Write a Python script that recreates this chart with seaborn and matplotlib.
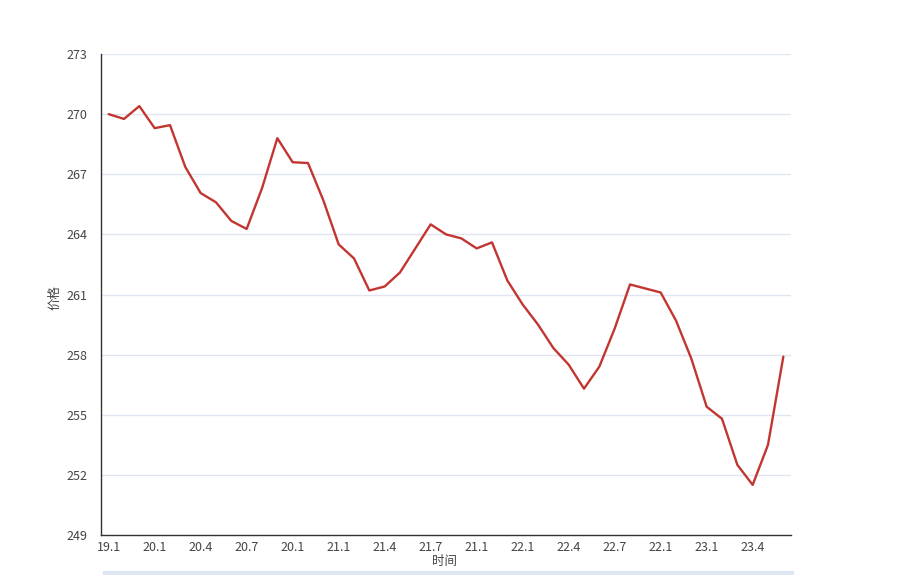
import numpy as np
import pandas as pd
import matplotlib
matplotlib.use("Agg")
import matplotlib.pyplot as plt
import matplotlib.patches as mpatches
import seaborn as sns

sns.set_style("white")
plt.rcParams['font.family'] = ['Noto Sans CJK SC', 'DejaVu Sans']

# 月份 (数字形式, 19.10 显示为 19.1)
months = ["19.1", "19.11", "19.12",
          "20.1", "20.2", "20.3", "20.4", "20.5", "20.6", "20.7", "20.8", "20.9", "20.1", "20.11", "20.12",
          "21.1", "21.2", "21.3", "21.4", "21.5", "21.6", "21.7", "21.8", "21.9", "21.1", "21.11", "21.12",
          "22.1", "22.2", "22.3", "22.4", "22.5", "22.6", "22.7", "22.8", "22.9", "22.1", "22.11", "22.12",
          "23.1", "23.2", "23.3", "23.4", "23.5", "23.6"]
price = [270.0, 269.76, 270.4, 269.3, 269.45, 267.36, 266.06, 265.6, 264.67, 264.27,
         266.3, 268.8, 267.6, 267.56, 265.7, 263.5, 262.8, 261.2, 261.4, 262.1,
         263.3, 264.5, 264.0, 263.8, 263.3, 263.6, 261.7, 260.5, 259.5, 258.33,
         257.5, 256.3, 257.4, 259.3, 261.5, 261.3, 261.1, 259.7, 257.8, 255.4,
         254.8, 252.5, 251.5, 253.5, 257.9]
yticks = list(range(249, 274, 3))

df = pd.DataFrame({"idx": np.arange(len(months)), "month": months, "price": price})

fig = plt.figure(figsize=(9.2, 5.75), dpi=100)
ax = fig.add_axes([101 / 920, 1 - 535 / 575, 690 / 920, 481 / 575])

sns.lineplot(data=df, x="idx", y="price", color="#c23531", linewidth=1.7, ax=ax)

ax.set_xlim(-0.5, len(months) - 0.5)
ax.set_ylim(249, 273)
ax.set_yticks(yticks)
ax.grid(axis="y", color="#e0e6f1", linewidth=1)
ax.set_axisbelow(True)

# 标签每隔3个显示
lab_pos = list(range(0, len(months), 3))
ax.set_xticks(lab_pos)
ax.set_xticklabels([months[i] for i in lab_pos])
ax.set_xticks(np.arange(-0.5, len(months), 3).tolist() + [len(months) - 0.5], minor=True)
ax.tick_params(axis="x", which="major", length=0, pad=4, labelsize=9, labelcolor="#444")
ax.tick_params(axis="x", which="minor", length=5, width=1, color="#333", direction="out")
ax.tick_params(axis="y", length=0, pad=10, labelsize=9, labelcolor="#444")

for s in ["top", "right"]:
    ax.spines[s].set_visible(False)
for s in ["left", "bottom"]:
    ax.spines[s].set_color("#333")
    ax.spines[s].set_linewidth(1)

ax.set_xlabel("")
ax.set_ylabel("")
fig.text(445 / 920, 1 - 561 / 575, "时间", ha="center", va="center", fontsize=9, color="#444")
fig.text(55 / 920, 1 - 297 / 575, "价格", ha="center", va="center", rotation=90, fontsize=9, color="#444")

# 底部滑块
fig.patches.append(mpatches.Rectangle((103 / 920, 0), 690 / 920, 4 / 575,
                                      transform=fig.transFigure, color="#dfe6f3", zorder=0))

fig.savefig("out.png", dpi=100)
